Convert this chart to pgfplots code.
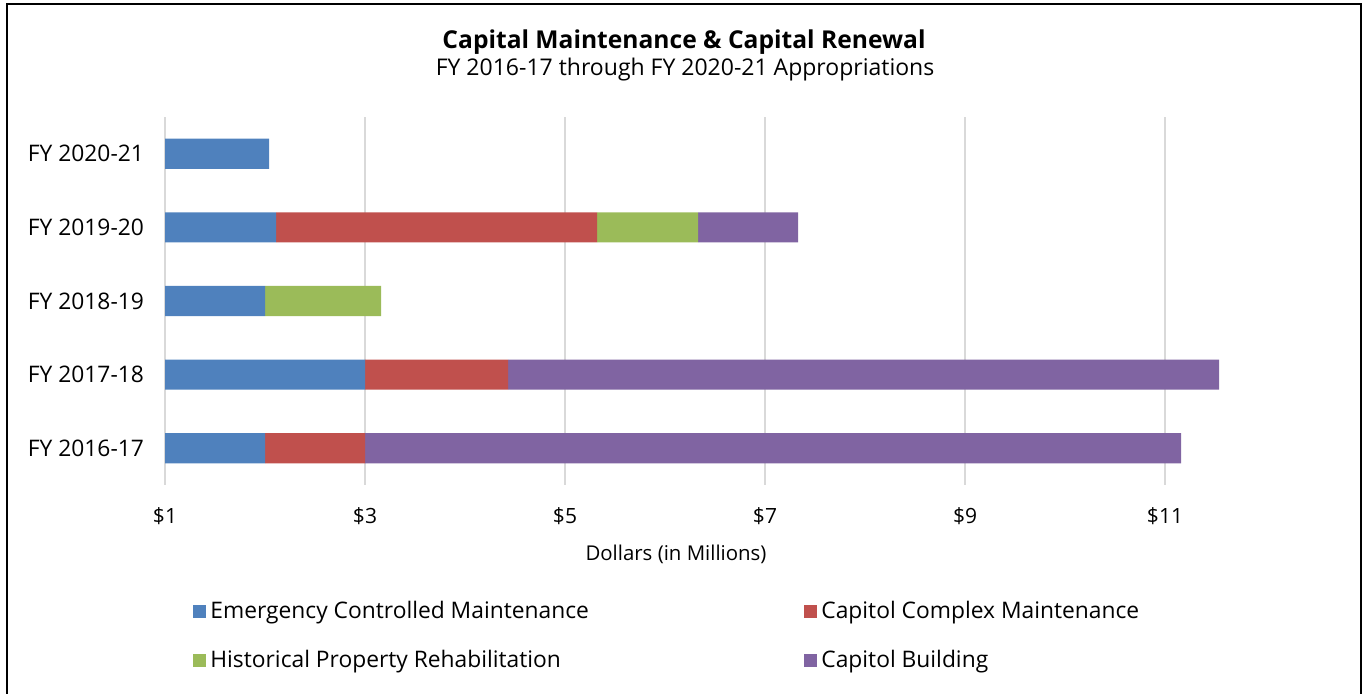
\documentclass[border=0pt]{standalone}
\usepackage{fontspec}
\setmainfont{Open Sans}
\usepackage{pgfplots}
\pgfplotsset{compat=1.18}
\definecolor{cblue}{HTML}{4F81BD}
\definecolor{cred}{HTML}{C0504D}
\definecolor{cgreen}{HTML}{9BBB59}
\definecolor{cpurple}{HTML}{8064A2}
\definecolor{cgrid}{HTML}{D9D9D9}
\begin{document}
\begin{tikzpicture}
\useasboundingbox (0,0) rectangle (683pt,347pt);
\draw[line width=1pt] (3.5pt,-2pt) -- (3.5pt,345pt) -- (680.5pt,345pt) -- (680.5pt,-2pt);
\node[font=\fontsize{12.3}{14}\selectfont\bfseries] at (342pt,326pt) {Capital Maintenance \& Capital Renewal};
\node[font=\fontsize{11.5}{13}\selectfont] at (342.5pt,312pt) {FY 2016-17 through FY 2020-21 Appropriations};
\node[font=\fontsize{10.2}{12}\selectfont] at (338pt,70pt) {Dollars (in Millions)};
\begin{axis}[
  at={(82.5pt,104.5pt)}, anchor=south west,
  width=550pt, height=184pt, scale only axis,
  xbar stacked, bar width=0.41,
  xmin=1, xmax=12, ymin=-0.5, ymax=4.5,
  xtick={1,3,5,7,9,11},
  xticklabel={\$\pgfmathprintnumber{\tick}},
  ytick={0,1,2,3,4},
  yticklabels={FY 2016-17,FY 2017-18,FY 2018-19,FY 2019-20,FY 2020-21},
  xmajorgrids, major grid style={cgrid, line width=0.8pt},
  axis line style={draw=none},
  major tick length=0pt,
  /pgf/number format/assume math mode=true,
  xticklabel style={font=\fontsize{10.5}{12}\selectfont, yshift=-8pt},
  yticklabel style={font=\fontsize{11.4}{13}\selectfont, xshift=-7pt},
  legend columns=2,
  legend style={draw=none, fill=none, at={(0.02,-0.292)}, anchor=north west,
    font=\fontsize{11.4}{13}\selectfont, row sep=10.5pt,
    /tikz/every even column/.append style={column sep=0pt}},
  legend cell align=left,
  legend image code/.code={\path[#1] (0pt,-3.25pt) rectangle (6.5pt,3.25pt);},
]
\addplot[fill=cblue, draw=none] coordinates {(2.0,0) (3.0,1) (2.0,2) (2.11,3) (2.04,4)};
\addplot[fill=cred, draw=none] coordinates {(1.0,0) (1.43,1) (0,2) (3.21,3) (0,4)};
\addplot[fill=cgreen, draw=none] coordinates {(0,0) (0,1) (1.16,2) (1.01,3) (0,4)};
\addplot[fill=cpurple, draw=none] coordinates {(8.16,0) (7.11,1) (0,2) (1.0,3) (0,4)};
\legend{\makebox[295pt][l]{Emergency Controlled Maintenance},Capitol Complex Maintenance,\makebox[295pt][l]{Historical Property Rehabilitation},Capitol Building}
\end{axis}
\end{tikzpicture}
\end{document}
